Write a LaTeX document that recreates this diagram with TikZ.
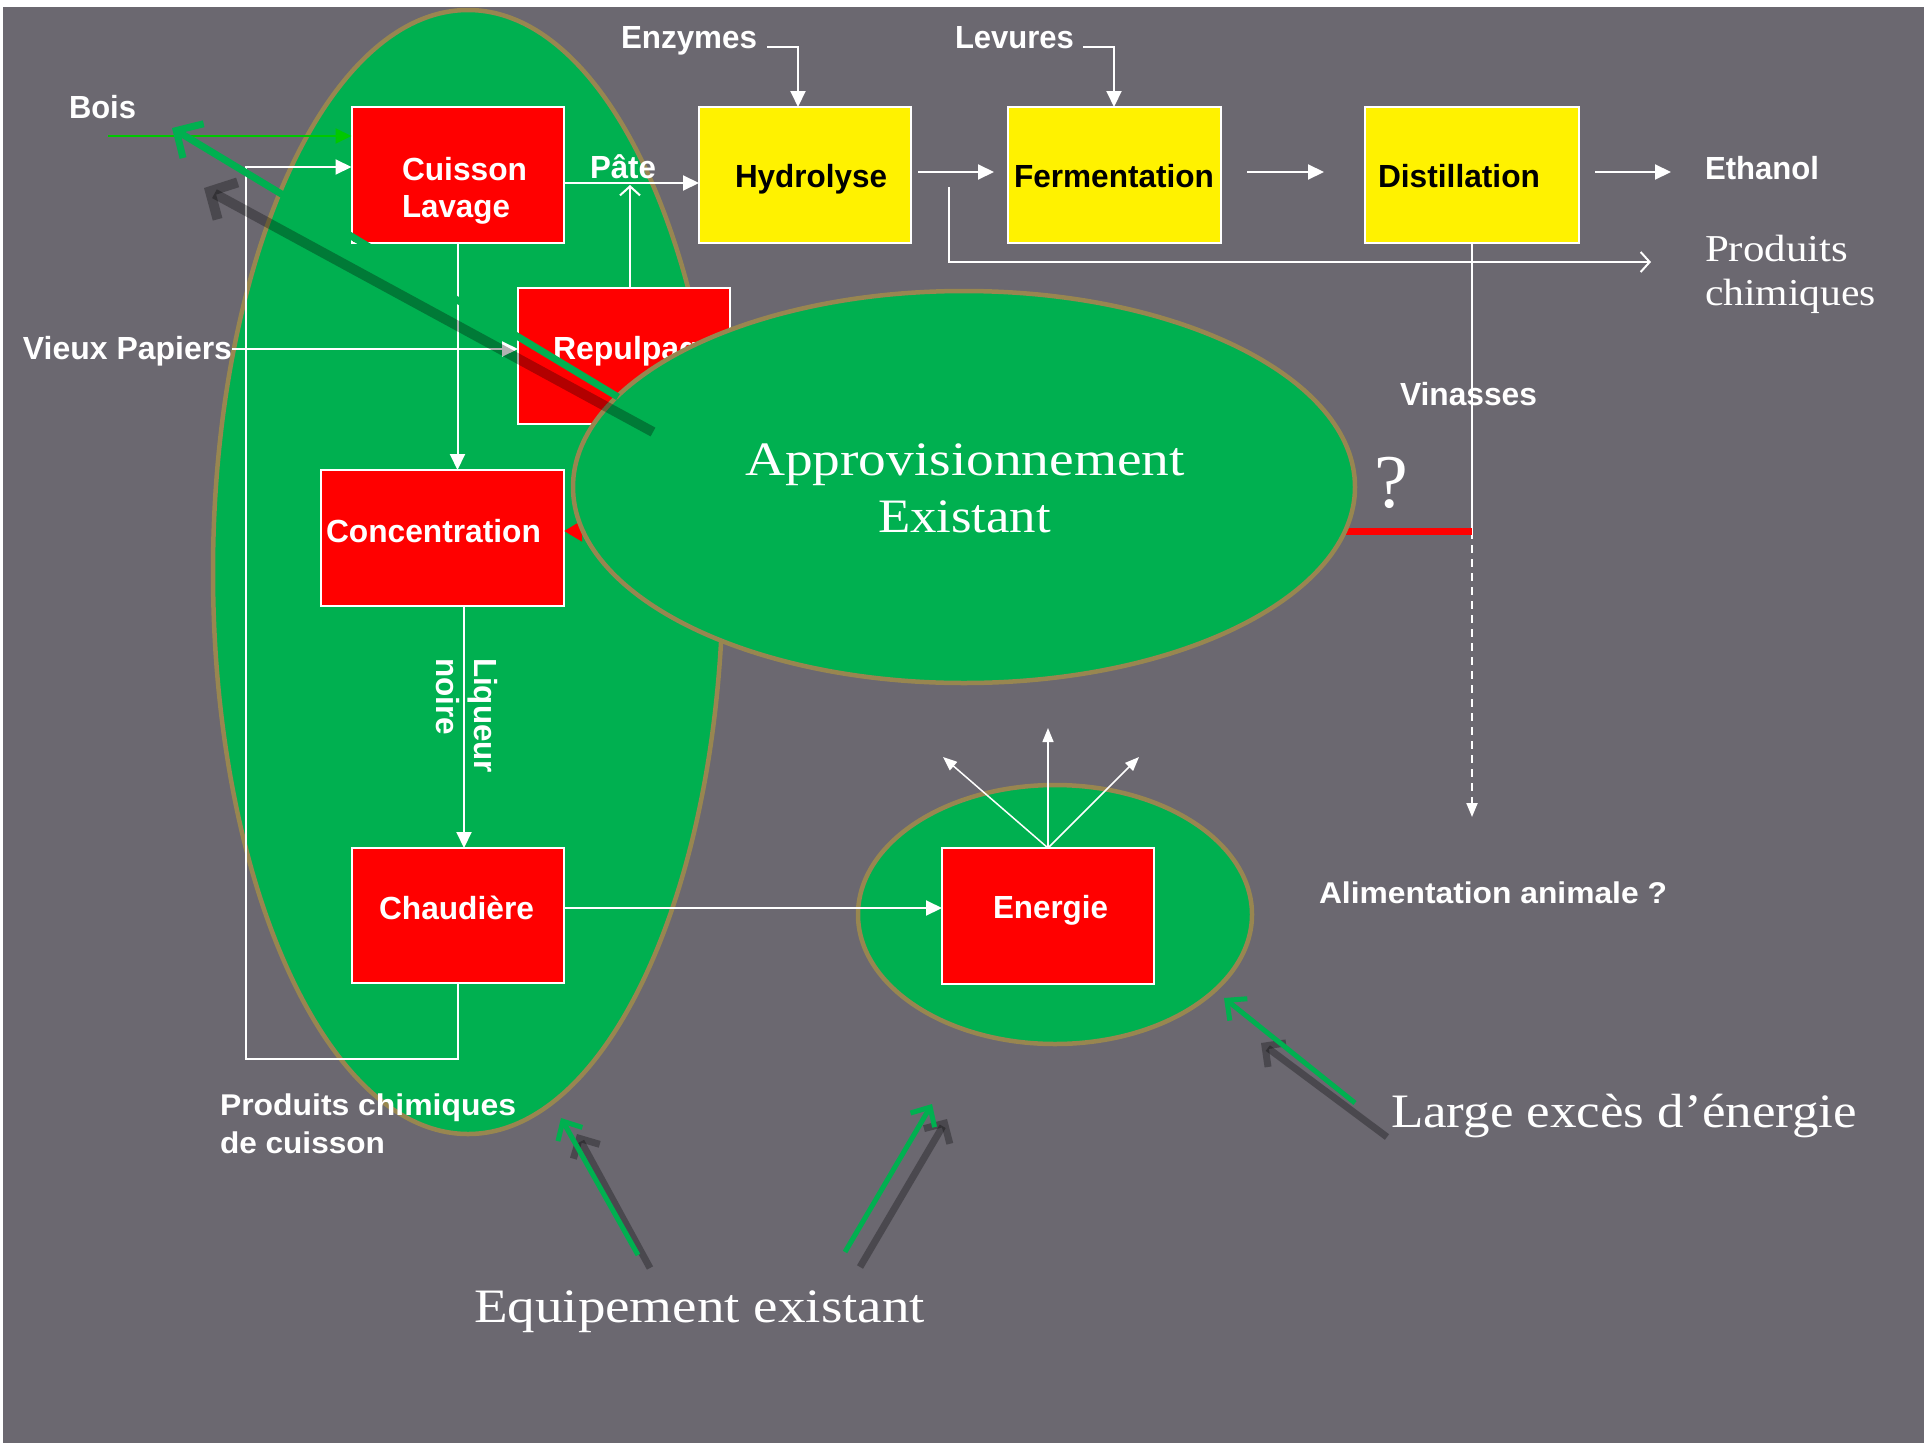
\documentclass[tikz,border=0pt]{standalone}
\usepackage{fontspec}
\usepackage{graphicx}
\usetikzlibrary{arrows.meta,shapes.geometric}
\newfontfamily\arialf{Liberation Sans}
\newfontfamily\palf{Liberation Serif}
\newcommand{\fw}[2]{\resizebox{#1pt}{\height}{#2}}
\definecolor{bg}{RGB}{107,104,112}
\definecolor{egreen}{RGB}{0,176,80}
\definecolor{olive}{RGB}{152,134,80}
\definecolor{bgreen}{RGB}{0,200,0}
\begin{document}
\begin{tikzpicture}[x=1pt,y=-1pt,
  box/.style={draw=white, line width=2pt, minimum width=212pt, minimum height=136pt, inner sep=0pt, outer sep=0pt},
  redbox/.style={box, fill=red},
  yelbox/.style={box, fill=yellow},
  ell/.style={ellipse, fill=egreen, draw=olive, line width=4.5pt, inner sep=0pt, outer sep=0pt},
  wline/.style={draw=white, line width=2pt},
  warr/.style={wline, -{Triangle[length=16pt,width=15pt]}},
  wsmall/.style={draw=white, line width=1.5pt, -{Triangle[length=14pt,width=11pt]}},
  wopen/.style={wline, -{Straight Barb[length=9pt,width=20pt]}},
  lbl/.style={inner sep=0pt, outer sep=0pt, anchor=base west, text=white, font=\arialf\bfseries\fontsize{32}{38}\selectfont},
  blbl/.style={lbl, text=black},
  slbl/.style={inner sep=0pt, outer sep=0pt, anchor=base west, text=white, font=\palf\fontsize{48}{56}\selectfont},
  garr/.style={draw=egreen, line width=7pt, -{Straight Barb[length=20pt,width=40pt]}},
  garrs/.style={draw=egreen, line width=5pt, -{Straight Barb[length=15pt,width=28pt]}},
  darr/.style={draw=black, draw opacity=0.3, line width=10pt, -{Straight Barb[length=20pt,width=42pt]}},
  darrs/.style={draw=black, draw opacity=0.3, line width=7pt, -{Straight Barb[length=15pt,width=30pt]}}
]
\useasboundingbox (0,0) rectangle (1927,1443);
\fill[white] (0,0) rectangle (1927,1443);
\fill[bg] (3,7) rectangle (1924,1443);

% ellipses (equipment)
\node[ell, minimum width=510pt, minimum height=1124pt] (bigE) at (468,572) {};
\node[ell, minimum width=394pt, minimum height=259pt] (enerE) at (1055,914.5) {};

% boxes
\node[redbox] (cuis) at (457.5,175) {};
\node[yelbox] (hydro) at (805,175) {};
\node[yelbox, minimum width=213pt] (ferm) at (1114.5,175) {};
\node[yelbox, minimum width=214pt] (dist) at (1472,175) {};
\node[redbox] (repul) at (624,356) {};
\node[redbox, minimum width=243pt] (conc) at (442.5,538) {};
\node[redbox, minimum height=135pt] (chau) at (458,915.5) {};
\node[redbox] (ener) at (1048,916) {};

% free ends
\coordinate (boisS) at (108,136);
\coordinate (vpS) at (232,349);
\coordinate (enzS) at (767,47);
\coordinate (levS) at (1083,47);
\coordinate (pcA) at (949,187);
\coordinate (pcEnd) at (1651,262);
\coordinate (vinJ) at (1472,531);
\coordinate (vinEnd) at (1472,817);
\coordinate (ethEnd) at (1671,172);
\coordinate (eL) at (943,757);
\coordinate (eT) at (1048,728);
\coordinate (eR) at (1139,757);

% connectors
\draw[bgreen, line width=2pt, -{Triangle[length=16pt,width=15pt]}] (boisS) -- ([yshift=39pt]cuis.west);
\draw[warr] (chau.south) -- ++(0,76) -| (246,167) -- ([yshift=8pt]cuis.west);
\draw[warr] (cuis.south) -- (cuis.south |- conc.north);
\draw[warr] ([xshift=21.5pt]conc.south) -- ([xshift=6pt]chau.north);
\draw[warr] ([yshift=7.5pt]chau.east) -- ([yshift=8pt]ener.west);
\draw[warr] ([yshift=-8pt]cuis.east) -- ([yshift=-8pt]hydro.west);
\draw[wopen] ([xshift=6pt]repul.north) -- ++(0,-103);
\draw[warr] (vpS) -- ([yshift=7pt]repul.west);
\draw[warr] (enzS) -| ([xshift=-7pt]hydro.north);
\draw[warr] (levS) -| ([xshift=-0.5pt]ferm.north);
\draw[warr] ([shift={(7pt,3pt)}]hydro.east) -- ([shift={(-14pt,3pt)}]ferm.west);
\draw[warr] ([shift={(26pt,3pt)}]ferm.east) -- ([shift={(-41pt,3pt)}]dist.west);
\draw[warr] ([shift={(16pt,3pt)}]dist.east) -- (ethEnd);
\draw[wopen] (pcA) |- (pcEnd);
\draw[wline] (dist.south) -- (vinJ);
\draw[draw=white, line width=2pt, dash pattern=on 8pt off 6pt, -{Triangle[length=14pt,width=11pt]}] (vinJ) -- (vinEnd);
\draw[wsmall] (ener.north) -- (eL);
\draw[wsmall] (ener.north) -- (eT);
\draw[wsmall] (ener.north) -- (eR);

\node[lbl] (repT) at (553,359) {Repulpage};

% red link under the ellipse
\draw[red, line width=7pt, -{Triangle[length=18pt,width=20pt]}] (vinJ) -- ([yshift=7pt]conc.east);

% supply ellipse
\node[ell, minimum width=782pt, minimum height=392pt] (appro) at (964,487) {};

% texts
\node[lbl] (bois) at (69,118) {\fw{67}{Bois}};
\node[lbl] (enz) at (621,48) {\fw{136}{Enzymes}};
\node[lbl] (lev) at (955,48) {\fw{119}{Levures}};
\node[lbl] (pate) at (590,178) {\fw{66}{Pâte}};
\node[blbl] (hydT) at (735,187) {\fw{152}{Hydrolyse}};
\node[blbl] (ferT) at (1014,187) {\fw{200}{Fermentation}};
\node[blbl] (disT) at (1378,187.5) {\fw{162}{Distillation}};
\node[lbl] (eth) at (1705,179) {\fw{114}{Ethanol}};
\node[slbl, font=\palf\fontsize{38}{44}\selectfont] (pc1) at (1705,261) {\fw{143}{Produits}};
\node[slbl, font=\palf\fontsize{38}{44}\selectfont] (pc2) at (1705,305) {\fw{171}{chimiques}};
\node[lbl] (vp) at (23,359) {\fw{209}{Vieux Papiers}};
\node[lbl] (cuisT1) at (402,180) {\fw{125}{Cuisson}};
\node[lbl] (cuisT2) at (402,217) {\fw{108}{Lavage}};
\node[lbl] (concT) at (326,542) {\fw{215}{Concentration}};
\node[lbl, rotate=-90] (liq1) at (474,658) {\fw{115}{Liqueur}};
\node[lbl, rotate=-90] (liq2) at (436,658) {\fw{77}{noire}};
\node[lbl] (chauT) at (379,919) {\fw{155}{Chaudière}};
\node[lbl] (enerT) at (993,918) {\fw{115}{Energie}};
\node[lbl, font=\arialf\bfseries\fontsize{30}{36}\selectfont] (alim) at (1319,903) {\fw{348}{Alimentation animale ?}};
\node[lbl] (vin) at (1400,405) {\fw{137}{Vinasses}};
\node[slbl, font=\palf\fontsize{76}{80}\selectfont] (qm) at (1374,507) {?};
\node[slbl] (ap1) at (745,475) {\fw{440}{Approvisionnement}};
\node[slbl] (ap2) at (878,532) {\fw{173}{Existant}};
\node[slbl] (large) at (1391,1127) {\fw{466}{Large excès d’énergie}};
\node[slbl] (equip) at (474,1322) {\fw{451}{Equipement existant}};
\node[lbl, font=\arialf\bfseries\fontsize{30}{36}\selectfont] (pcc1) at (220,1115) {\fw{296}{Produits chimiques}};
\node[lbl, font=\arialf\bfseries\fontsize{30}{36}\selectfont] (pcc2) at (220,1153) {\fw{165}{de cuisson}};

% callout arrows
\coordinate (gA0) at (618,397);  \coordinate (gA1) at (172,128);
\coordinate (dA0) at (653,432);  \coordinate (dA1) at (204,188);
\coordinate (gB0) at (638,1255); \coordinate (gB1) at (561,1118);
\coordinate (dB0) at (650,1268); \coordinate (dB1) at (577,1134);
\coordinate (gC0) at (845,1252); \coordinate (gC1) at (932,1104);
\coordinate (dC0) at (860,1267); \coordinate (dC1) at (947,1119);
\coordinate (gD0) at (1355,1103); \coordinate (gD1) at (1224,998);
\coordinate (dD0) at (1387,1137); \coordinate (dD1) at (1261,1043);
\draw[darr] (dA0) -- (dA1);
\draw[garr] (gA0) -- (gA1);
\draw[darrs] (dB0) -- (dB1);
\draw[garrs] (gB0) -- (gB1);
\draw[darrs] (dC0) -- (dC1);
\draw[garrs] (gC0) -- (gC1);
\draw[darrs] (dD0) -- (dD1);
\draw[garrs] (gD0) -- (gD1);
\end{tikzpicture}
\end{document}
